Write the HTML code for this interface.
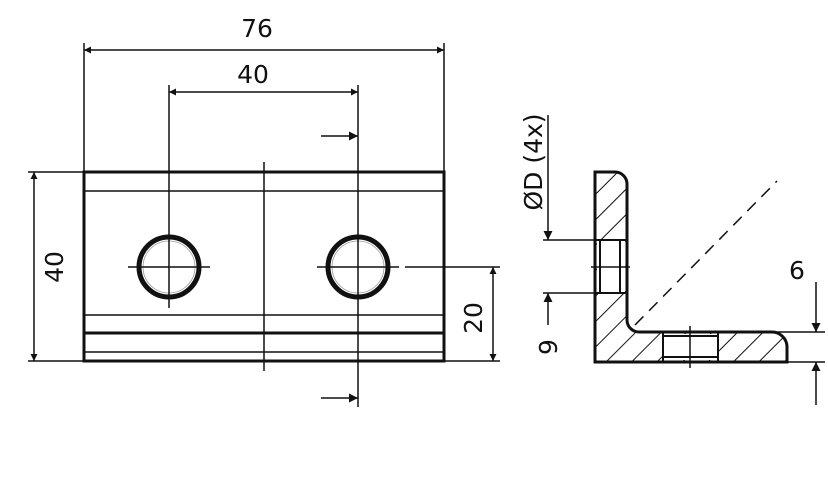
<!DOCTYPE html>
<html><head><style>html,body{margin:0;padding:0;background:#fff}</style></head><body>
<svg width="828" height="472" viewBox="0 0 828 472" xmlns="http://www.w3.org/2000/svg" font-family="DejaVu Sans, Liberation Sans, sans-serif">
<defs>
<marker id="a" viewBox="0 0 10 10" refX="10" refY="5" markerWidth="14" markerHeight="7" markerUnits="userSpaceOnUse" orient="auto-start-reverse"><path d="M0,0L10,5L0,10z" fill="#111"/></marker>
<marker id="b" viewBox="0 0 10 10" refX="10" refY="5" markerWidth="16" markerHeight="9" markerUnits="userSpaceOnUse" orient="auto"><path d="M0,0L10,5L0,10z" fill="#111"/></marker>
<pattern id="h" patternUnits="userSpaceOnUse" width="18" height="18" patternTransform="rotate(45)"><line x1="0" y1="0" x2="0" y2="18" stroke="#111" stroke-width="2"/></pattern>
</defs>
<g stroke="#111" fill="none">
<rect x="84" y="172" width="360" height="189" stroke-width="3"/>
<line x1="84" y1="191" x2="444" y2="191" stroke-width="1.5"/>
<line x1="84" y1="315" x2="444" y2="315" stroke-width="1.5"/>
<line x1="84" y1="333" x2="444" y2="333" stroke-width="3"/>
<line x1="84" y1="352" x2="444" y2="352" stroke-width="1.5"/>
<line x1="264" y1="162" x2="264" y2="371" stroke-width="1.5"/>
<circle cx="169" cy="267" r="30" stroke-width="5"/>
<circle cx="169" cy="267" r="26" stroke-width="0.8" stroke="#999"/>
<circle cx="358" cy="267" r="30" stroke-width="5"/>
<circle cx="358" cy="267" r="26" stroke-width="0.8" stroke="#999"/>
<g stroke-width="1.5">
<line x1="128" y1="267" x2="210" y2="267"/><line x1="169" y1="85" x2="169" y2="308"/>
<line x1="317" y1="267" x2="399" y2="267"/><line x1="358" y1="85" x2="358" y2="407"/>
<line x1="405" y1="267" x2="500" y2="267"/><line x1="444" y1="361" x2="500" y2="361"/>
<line x1="84" y1="43" x2="84" y2="172"/><line x1="444" y1="43" x2="444" y2="172"/>
<line x1="28" y1="172" x2="84" y2="172"/><line x1="28" y1="361" x2="84" y2="361"/>
<line x1="84" y1="50" x2="444" y2="50" marker-start="url(#a)" marker-end="url(#a)"/>
<line x1="169" y1="92" x2="358" y2="92" marker-start="url(#a)" marker-end="url(#a)"/>
<line x1="34" y1="172" x2="34" y2="361" marker-start="url(#a)" marker-end="url(#a)"/>
<line x1="493" y1="267" x2="493" y2="361" marker-start="url(#a)" marker-end="url(#a)"/>
<line x1="321" y1="136" x2="358" y2="136" marker-end="url(#b)"/>
<line x1="321" y1="398" x2="358" y2="398" marker-end="url(#b)"/>
</g>
<path d="M595,172 H615 A12,12 0 0 1 627,184 V320 A12,12 0 0 0 639,332 H772 A15,15 0 0 1 787,347 V362 H595 Z" fill="url(#h)" stroke="none"/>
<rect x="597" y="240" width="28" height="53" fill="#fff" stroke="none"/>
<rect x="663" y="334" width="55" height="26" fill="#fff" stroke="none"/>
<path d="M595,172 H615 A12,12 0 0 1 627,184 V320 A12,12 0 0 0 639,332 H772 A15,15 0 0 1 787,347 V362 H595 Z" stroke-width="3"/>
<g stroke-width="2">
<line x1="595" y1="240" x2="627" y2="240"/><line x1="595" y1="293" x2="627" y2="293"/>
<line x1="600" y1="240" x2="600" y2="293"/><line x1="620" y1="240" x2="620" y2="293"/>
<line x1="663" y1="332" x2="663" y2="362"/><line x1="718" y1="332" x2="718" y2="362"/>
<line x1="663" y1="336" x2="718" y2="336"/><line x1="663" y1="357" x2="718" y2="357"/>
</g>
<g stroke-width="1.5">
<line x1="591" y1="267" x2="630" y2="267"/><line x1="690" y1="326" x2="690" y2="368"/>
<line x1="635" y1="325" x2="777" y2="181" stroke-dasharray="12,8"/>
<line x1="543" y1="240" x2="598" y2="240"/><line x1="543" y1="293" x2="598" y2="293"/>
<line x1="548" y1="115" x2="548" y2="240" marker-end="url(#b)"/>
<line x1="548" y1="325" x2="548" y2="293" marker-end="url(#b)"/>
<line x1="730" y1="332" x2="825" y2="332"/><line x1="787" y1="362" x2="825" y2="362"/>
<line x1="816" y1="282" x2="816" y2="332" marker-end="url(#b)"/>
<line x1="816" y1="405" x2="816" y2="362" marker-end="url(#b)"/>
</g>
</g>
<g fill="#111" font-size="25" text-anchor="middle">
<text x="257" y="37">76</text>
<text x="253" y="83">40</text>
<text transform="translate(63,267) rotate(-90)">40</text>
<text transform="translate(482,318) rotate(-90)">20</text>
<text transform="translate(542,162) rotate(-90)">ØD (4x)</text>
<text transform="translate(557,347) rotate(-90)">9</text>
<text x="797" y="279">6</text>
</g>
</svg>
</body></html>
